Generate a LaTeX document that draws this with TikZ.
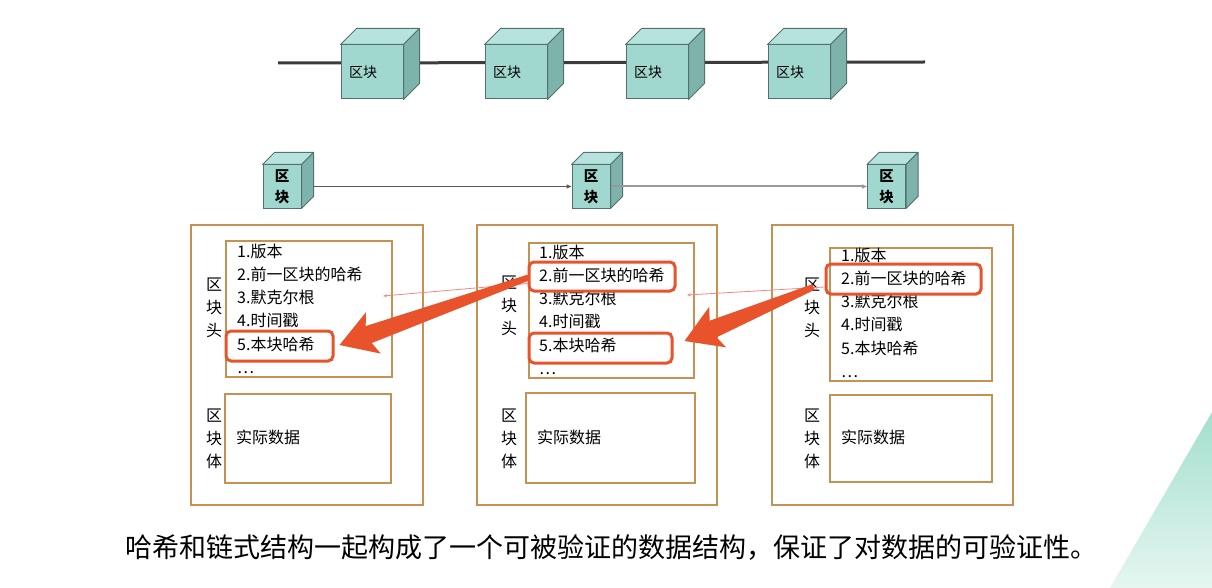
\documentclass[tikz,border=0pt]{standalone}
\usepackage{fontspec}
\setmainfont{Noto Sans CJK SC}
\usetikzlibrary{calc,arrows.meta}
\definecolor{cubefront}{HTML}{A0D8D0}
\definecolor{cubetop}{HTML}{B6E3DD}
\definecolor{cubeside}{HTML}{7DB3AB}
\definecolor{cubeedge}{HTML}{55716D}
\definecolor{boxline}{HTML}{C69253}
\definecolor{hl}{HTML}{E8532B}
\definecolor{thinred}{HTML}{F08A80}
\definecolor{tria}{HTML}{A3DFCE}
\definecolor{trib}{HTML}{E6F6F1}
\definecolor{chainline}{HTML}{3C3C3C}

\newcommand{\drawcubefaces}[2]{%
  \filldraw[fill=cubetop, draw=cubeedge, line width=1pt, line join=round]
    (#1.north west) -- ++(#2,-#2) -- ($(#1.north east)+(#2,-#2)$) -- (#1.north east) -- cycle;
  \filldraw[fill=cubeside, draw=cubeedge, line width=1pt, line join=round]
    (#1.north east) -- ++(#2,-#2) -- ($(#1.south east)+(#2,-#2)$) -- (#1.south east) -- cycle;
}
\newcommand{\fatarrow}[2]{% #1 tail, #2 tip
  \coordinate (fah) at ($(#2)!36pt!(#1)$);
  \coordinate (faj) at ($(#2)!31pt!(#1)$);
  \fill[hl] (#2) -- ($(fah)!22pt!90:(#2)$) -- ($(faj)!9pt!90:(#2)$) -- ($(#1)!3pt!90:(#2)$)
    -- ($(#1)!3pt!-90:(#2)$) -- ($(faj)!9pt!-90:(#2)$) -- ($(fah)!22pt!-90:(#2)$) -- cycle;
}

\tikzset{
  bigcube/.style={draw=cubeedge, fill=cubefront, line width=1pt, minimum width=62pt, minimum height=54pt,
    text width=46pt, inner xsep=8pt, align=left, font=\fontsize{14}{16}\selectfont},
  smallcube/.style={draw=cubeedge, fill=cubefront, line width=1pt, minimum width=38pt, minimum height=43pt,
    inner sep=0pt, align=center, font=\bfseries\fontsize{14.5}{21}\selectfont},
  outerbox/.style={draw=boxline, line width=1.2pt, inner sep=0pt},
  innerbox/.style={draw=boxline, line width=1.2pt, inner sep=0pt},
  item/.style={anchor=west, inner sep=0pt, text height=11.5pt, text depth=3pt, font=\fontsize{16}{19}\selectfont},
  sidelabel/.style={inner sep=0pt, align=center, font=\fontsize{16}{23}\selectfont},
  hlbox/.style={draw=hl, line width=3pt, rounded corners=5pt, inner sep=0pt},
  linkdark/.style={draw=black!65, line width=1.5pt, -{Triangle[length=5pt,width=4pt]}},
  linklight/.style={draw=black!40, line width=2pt, -{Triangle[length=5pt,width=4pt]}},
  thinarrow/.style={draw=thinred, line width=0.8pt, -{Stealth[length=4pt,width=3pt]}},
  caption/.style={inner sep=0pt, font=\fontsize{27}{31}\selectfont}
}

\begin{document}
\begin{tikzpicture}[x=1pt, y=-1pt]
\useasboundingbox (0,0) rectangle (1212,588);
\fill[white] (0,0) rectangle (1212,588);

% decorative triangle
\shade[top color=tria, bottom color=trib] (1212,412) -- (1110,588) -- (1212,588) -- cycle;

% top chain
\coordinate (chainL) at (278,63);
\coordinate (chainR) at (925,62);
\draw[chainline, line width=3pt] (chainL) -- (chainR);
\foreach \x [count=\i] in {372, 516, 657, 799} {
  \node[bigcube] (tc\i) at (\x,72) {区块};
  \drawcubefaces{tc\i}{16}
}

% second row cubes
\node[smallcube] (sc1) at (282,186.5) {区\\块};
\drawcubefaces{sc1}{12}
\node[smallcube] (sc2) at (591,186.5) {区\\块};
\drawcubefaces{sc2}{12}
\node[smallcube] (sc3) at (886.5,186.5) {区\\块};
\drawcubefaces{sc3}{12}
\draw[linkdark] ($(sc1.east)+(12,0)$) -- (sc2.west);
\draw[linklight] (sc2.east) -- (sc3.west);

% outer boxes
\node[outerbox, minimum width=232pt, minimum height=280pt] (ob1) at (307,365) {};
\node[outerbox, minimum width=240pt, minimum height=280pt] (ob2) at (597,365) {};
\node[outerbox, minimum width=241pt, minimum height=280pt] (ob3) at (892.5,365) {};

% header boxes
\node[innerbox, minimum width=166pt, minimum height=136pt] (hd1) at (309,309) {};
\node[innerbox, minimum width=165pt, minimum height=135pt] (hd2) at (611.5,310.5) {};
\node[innerbox, minimum width=162pt, minimum height=133pt] (hd3) at (911,314.5) {};

% body boxes
\node[innerbox, minimum width=166pt, minimum height=89pt] (bd1) at (308,438.5) {};
\node[innerbox, minimum width=169pt, minimum height=90pt] (bd2) at (610.5,438) {};
\node[innerbox, minimum width=162pt, minimum height=87pt] (bd3) at (911,438.5) {};

% items
\foreach \bx/\by/\b in {237/253/1, 539/254/2, 841/257/3} {
  \foreach \t [count=\k] in {1.版本, 2.前一区块的哈希, 3.默克尔根, 4.时间戳, 5.本块哈希, {\ldots}} {
    \node[item] (it\b-\k) at (\bx, \by+23.2*\k-23.2) {\t};
  }
}

% side labels
\node[sidelabel] (hl1) at (214,307.5) {区\\块\\头};
\node[sidelabel] (hl2) at (509,306) {区\\块\\头};
\node[sidelabel] (hl3) at (812,308) {区\\块\\头};
\node[sidelabel] (bl1) at (214,439) {区\\块\\体};
\node[sidelabel] (bl2) at (509,439) {区\\块\\体};
\node[sidelabel] (bl3) at (812,438.5) {区\\块\\体};

% body text
\node[item] (dt1) at (236,439) {实际数据};
\node[item] (dt2) at (537,439) {实际数据};
\node[item] (dt3) at (841,439) {实际数据};

% highlight boxes
\node[hlbox, minimum width=107pt, minimum height=30pt] (hA) at (279.5,346) {};
\node[hlbox, minimum width=146pt, minimum height=29pt] (hB) at (602,276.5) {};
\node[hlbox, minimum width=143pt, minimum height=30pt] (hC) at (600.5,348) {};
\node[hlbox, minimum width=155pt, minimum height=30pt] (hD) at (903.5,279) {};

% thin red arrows
\coordinate (tipA) at (383,296);
\coordinate (tipB) at (687,295);
\draw[thinarrow] ($(hB.west)+(0,7)$) -- (tipA);
\draw[thinarrow] ($(hD.west)+(0,8)$) -- (tipB);

% big arrows
\coordinate (tailA) at ($(hB.west)+(1,1)$);
\coordinate (headA) at ($(hA.east)+(5,-1)$);
\fatarrow{tailA}{headA}
\coordinate (tailB) at ($(hD.west)+(-11,8)$);
\coordinate (headB) at ($(hC.east)+(11,-7)$);
\fatarrow{tailB}{headB}

% caption
\node[caption] (cap) at (611,548) {哈希和链式结构一起构成了一个可被验证的数据结构，保证了对数据的可验证性。};
\end{tikzpicture}
\end{document}
